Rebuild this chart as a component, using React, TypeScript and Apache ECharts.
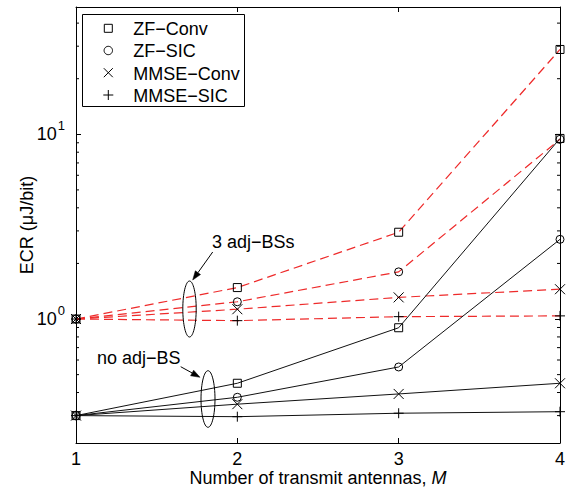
import React, { useEffect, useRef } from "react";
import * as echarts from "echarts";

const FONT = "'Liberation Sans', Arial, Helvetica, sans-serif";

// Data
const antennas = [1, 2, 3, 4];
const seriesNames = ["ZF\u2212Conv", "ZF\u2212SIC", "MMSE\u2212Conv", "MMSE\u2212SIC"];
// 3 adjacent BSs (red dashed)
const zfConvAdj = [1.0, 1.48, 2.95, 28.8];
const zfSicAdj = [1.0, 1.24, 1.8, 9.4];
const mmseConvAdj = [1.0, 1.13, 1.31, 1.45];
const mmseSicAdj = [1.0, 0.98, 1.03, 1.04];
// no adjacent BS (black solid)
const zfConvNo = [0.3, 0.449, 0.897, 9.5];
const zfSicNo = [0.3, 0.377, 0.55, 2.7];
const mmseConvNo = [0.3, 0.346, 0.393, 0.449];
const mmseSicNo = [0.3, 0.296, 0.309, 0.315];
const yMin = 0.2132;
const yMax = 48.9;
const minorTicks = [0.3, 0.4, 0.5, 0.6, 0.7, 0.8, 0.9, 2, 3, 4, 5, 6, 7, 8, 9, 20, 30, 40];

const SQ = "path://M0,0H10V10H0Z";
const CI = "path://M10,5A5,5,0,1,1,0,5A5,5,0,1,1,10,5Z";
const XX = "path://M0,0L10,10M10,0L0,10";
const PL = "path://M5,0L5,10M0,5L10,5";
const symbols = [SQ, CI, XX, PL];
const symSizes = [8, 8, 10, 10];

function arrow(x1: number, y1: number, x2: number, y2: number) {
  const dx = x2 - x1, dy = y2 - y1;
  const len = Math.sqrt(dx * dx + dy * dy);
  const ux = dx / len, uy = dy / len;
  const hl = 9, hw = 3.2;
  const bx = x2 - ux * hl, by = y2 - uy * hl;
  return [
    { type: "line", shape: { x1, y1, x2: bx, y2: by }, style: { stroke: "#000", lineWidth: 1 }, z: 10 },
    {
      type: "polygon",
      shape: { points: [[x2, y2], [bx - uy * hw, by + ux * hw], [bx + uy * hw, by - ux * hw]] },
      style: { fill: "#000", stroke: "#000", lineWidth: 0.5 },
      z: 10,
    },
  ];
}

function legendIcon(i: number, cx: number, cy: number) {
  const st = { fill: "none", stroke: "#000", lineWidth: 1 };
  if (i === 0) return [{ type: "rect", shape: { x: cx - 4, y: cy - 4, width: 8, height: 8 }, style: st, z: 21 }];
  if (i === 1) return [{ type: "circle", shape: { cx, cy, r: 4.2 }, style: st, z: 21 }];
  if (i === 2)
    return [
      { type: "line", shape: { x1: cx - 4.5, y1: cy - 4.5, x2: cx + 4.5, y2: cy + 4.5 }, style: st, z: 21 },
      { type: "line", shape: { x1: cx - 4.5, y1: cy + 4.5, x2: cx + 4.5, y2: cy - 4.5 }, style: st, z: 21 },
    ];
  return [
    { type: "line", shape: { x1: cx, y1: cy - 5, x2: cx, y2: cy + 5 }, style: st, z: 21 },
    { type: "line", shape: { x1: cx - 5, y1: cy, x2: cx + 5, y2: cy }, style: st, z: 21 },
  ];
}

export default function App() {
  const ref = useRef<HTMLDivElement>(null);
  useEffect(() => {
    document.body.style.margin = "0";
    const chart = echarts.init(ref.current!, null, { renderer: "svg" });
    const red = "#ee2a2a";
    const adj = [zfConvAdj, zfSicAdj, mmseConvAdj, mmseSicAdj];
    const no = [zfConvNo, zfSicNo, mmseConvNo, mmseSicNo];
    const mkSeries = (vals: number[], i: number, isAdj: boolean) => ({
      type: "line",
      name: seriesNames[i],
      data: antennas.map((x, k) => [x, vals[k]]),
      symbol: symbols[i],
      symbolSize: symSizes[i],
      symbolKeepAspect: true,
      showAllSymbol: true,
      lineStyle: isAdj
        ? { color: red, width: 1.2, type: [9, 5] }
        : { color: "#111", width: 1, type: "solid" },
      itemStyle: { color: "rgba(0,0,0,0)", borderColor: "#000", borderWidth: 1 },
      z: isAdj ? 2 : 3,
      silent: true,
    });
    const axisText = { fontSize: 18, color: "#000", fontFamily: FONT };
    const isPow = (v: number) => Math.abs(Math.log10(v) - Math.round(Math.log10(v))) < 1e-6;
    const yBase = {
      type: "log",
      logBase: 10,
      min: yMin,
      max: yMax,
      splitLine: { show: false },
      axisLine: { show: true, lineStyle: { color: "#000", width: 1 } },
      axisTick: { show: true, inside: true, length: 5, lineStyle: { color: "#000", width: 1 } },
    };
    const xBase = {
      type: "value",
      min: 1,
      max: 4,
      interval: 1,
      splitLine: { show: false },
      axisLine: { show: true, lineStyle: { color: "#000", width: 1 } },
      axisTick: { show: true, inside: true, length: 5, lineStyle: { color: "#000", width: 1 } },
    };
    const legendX = 82.5, legendY = 14.5, legendW = 162, legendH = 92;
    const rowY = [28.3, 50.5, 72.7, 95];
    const legendGraphics: any[] = [
      { type: "rect", shape: { x: legendX, y: legendY, width: legendW, height: legendH }, style: { fill: "#fff", stroke: "#000", lineWidth: 1 }, z: 20 },
    ];
    seriesNames.forEach((n, i) => {
      legendGraphics.push(...legendIcon(i, 108.3, rowY[i]));
      legendGraphics.push({
        type: "text",
        x: 133.3,
        y: rowY[i] + 0.8,
        style: { text: n, fontSize: 18, fill: "#000", fontFamily: FONT, verticalAlign: "middle", align: "left" },
        z: 21,
      });
    });
    const option: any = {
      animation: false,
      grid: { left: 76, right: 7, top: 7, bottom: 49, containLabel: false, outerBoundsMode: "none" },
      xAxis: [
        {
          ...xBase,
          position: "bottom",
          axisLabel: { ...axisText, margin: 6.5 },
          name: "{a|Number of transmit antennas, }{i|M}",
          nameLocation: "middle",
          nameGap: 25.5,
          nameMoveOverlap: false,
          nameTextStyle: {
            ...axisText,
            rich: {
              a: { ...axisText },
              i: { ...axisText, fontStyle: "italic" },
            },
          },
        },
        { ...xBase, position: "top", axisLabel: { show: false } },
      ],
      yAxis: [
        {
          ...yBase,
          position: "left",
          axisLabel: {
            margin: 11,
            formatter: (v: number) => (isPow(v) ? `{b|10}{s|${Math.round(Math.log10(v))}}` : ""),
            rich: {
              b: { ...axisText },
              s: { fontSize: 13, color: "#000", fontFamily: FONT, verticalAlign: "bottom", padding: [0, 0, 18, 1] },
            },
          },
          name: "ECR (\u03bcJ/bit)",
          nameLocation: "middle",
          nameGap: 40,
          nameMoveOverlap: false,
          nameTextStyle: { ...axisText },
        },
        { ...yBase, position: "right", axisLabel: { show: false } },
      ],
      series: [
        ...adj.map((v, i) => mkSeries(v, i, true)),
        ...no.map((v, i) => mkSeries(v, i, false)),
        {
          type: "custom",
          silent: true,
          clip: false,
          data: minorTicks.map((v) => [1, v]),
          renderItem: (params: any, api: any) => {
            const v = api.value(1);
            const l = api.coord([1, v]);
            const r = api.coord([4, v]);
            return {
              type: "group",
              children: [
                { type: "line", shape: { x1: l[0], y1: l[1], x2: l[0] + 3, y2: l[1] }, style: { stroke: "#000", lineWidth: 1 } },
                { type: "line", shape: { x1: r[0], y1: r[1], x2: r[0] - 3, y2: r[1] }, style: { stroke: "#000", lineWidth: 1 } },
              ],
            };
          },
          z: 1,
        },
      ],
      graphic: [
        ...legendGraphics,
        { type: "text", left: 212, top: 233, style: { text: "3 adj\u2212BSs", fontSize: 18, fill: "#000", fontFamily: FONT }, z: 10 },
        { type: "text", left: 97, top: 349, style: { text: "no adj\u2212BS", fontSize: 18, fill: "#000", fontFamily: FONT }, z: 10 },
        { type: "ellipse", shape: { cx: 189.5, cy: 309, rx: 6.7, ry: 28 }, style: { fill: "none", stroke: "#000", lineWidth: 1 }, z: 10 },
        { type: "ellipse", shape: { cx: 208, cy: 399, rx: 7, ry: 28.3 }, style: { fill: "none", stroke: "#000", lineWidth: 1 }, z: 10 },
        ...arrow(212.7, 252, 192.7, 280),
        ...arrow(180.7, 366.7, 200, 377.3),
      ],
    };
    chart.setOption(option);
    return () => chart.dispose();
  }, []);
  return <div ref={ref} style={{ width: 567, height: 492 }} />;
}
